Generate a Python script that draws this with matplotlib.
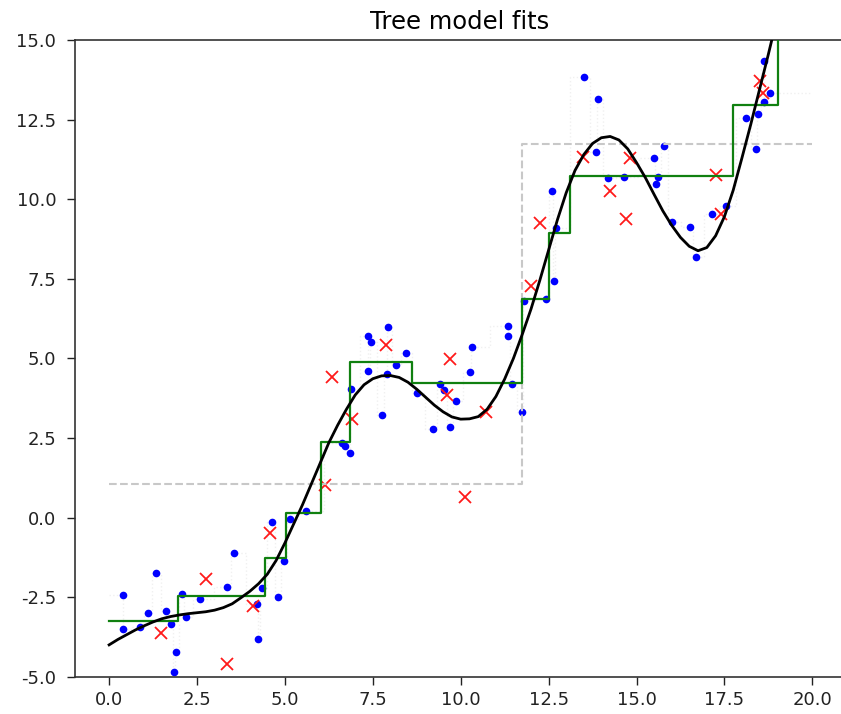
import numpy as np
import matplotlib.pyplot as plt

# training points (blue dots)
x_train = [0.39, 0.39, 0.87, 1.10, 1.32, 1.61, 1.77, 1.89, 1.84, 2.08, 2.20, 2.58,
           3.36, 3.55, 4.22, 4.24, 4.35, 4.62, 4.81, 4.98, 5.14, 5.59, 6.61, 6.70,
           6.84, 6.89, 7.37, 7.46, 7.37, 7.77, 7.89, 7.93, 8.15, 8.44, 8.77, 9.22,
           9.41, 9.52, 9.69, 9.87, 10.26, 10.31, 11.35, 11.35, 11.45, 11.73, 11.80,
           12.42, 12.65, 12.59, 12.71, 13.50, 13.91, 13.84, 14.19, 14.64, 15.50,
           15.79, 15.62, 15.56, 16.02, 16.52, 16.70, 17.15, 17.54, 18.11, 18.46,
           18.39, 18.62, 18.81, 18.62]
y_train = [-2.44, -3.51, -3.43, -3.00, -1.75, -2.93, -3.33, -4.21, -4.84, -2.39, -3.12, -2.56,
           -2.18, -1.12, -2.72, -3.82, -2.20, -0.13, -2.49, -1.38, -0.05, 0.19, 2.34, 2.25,
           2.02, 4.03, 5.71, 5.50, 4.61, 3.22, 4.52, 5.99, 4.80, 5.16, 3.92, 2.79,
           4.20, 4.00, 2.84, 3.67, 4.56, 5.37, 6.01, 5.69, 4.19, 3.30, 6.81,
           6.88, 7.44, 10.26, 9.11, 13.85, 13.16, 11.47, 10.65, 10.71, 11.28,
           11.66, 10.71, 10.47, 9.27, 9.13, 8.19, 9.53, 9.77, 12.54, 12.66,
           11.59, 14.35, 13.35, 13.04]

# test points (red crosses)
x_test = [1.47, 2.75, 3.36, 4.09, 4.57, 6.15, 6.34, 6.90, 7.87, 9.69, 9.62, 10.13,
          10.73, 12.00, 12.25, 13.49, 14.25, 14.70, 14.81, 17.26, 17.40, 18.52, 18.60]
y_test = [-3.63, -1.94, -4.59, -2.77, -0.49, 1.02, 4.42, 3.09, 5.41, 4.98, 3.85, 0.63,
          3.30, 7.26, 9.25, 11.31, 10.26, 9.37, 11.30, 10.77, 9.53, 13.70, 13.35]

# true function (black curve)
x_true = [0.0, 0.25, 0.5, 0.75, 1.0, 1.25, 1.5, 1.75, 2.0, 2.25, 2.5, 2.75, 3.0, 3.25,
          3.5, 3.75, 4.0, 4.25, 4.5, 4.75, 5.0, 5.25, 5.5, 5.75, 6.0, 6.25, 6.5, 6.75,
          7.0, 7.25, 7.5, 7.75, 8.0, 8.25, 8.5, 8.75, 9.0, 9.25, 9.5, 9.75, 10.0, 10.25,
          10.5, 10.75, 11.0, 11.25, 11.5, 11.75, 12.0, 12.25, 12.5, 12.75, 13.0, 13.25,
          13.5, 13.75, 14.0, 14.25, 14.5, 14.75, 15.0, 15.25, 15.5, 15.75, 16.0, 16.25,
          16.5, 16.75, 17.0, 17.25, 17.5, 17.75, 18.0, 18.25, 18.5, 18.75, 19.0]
y_true = [-4.00, -3.83, -3.68, -3.53, -3.40, -3.28, -3.18, -3.11, -3.06, -3.02, -2.99, -2.96,
          -2.91, -2.83, -2.71, -2.52, -2.32, -2.08, -1.78, -1.35, -0.80, -0.20, 0.40, 1.05,
          1.70, 2.35, 2.90, 3.40, 3.85, 4.17, 4.36, 4.45, 4.46, 4.40, 4.25, 4.03, 3.78,
          3.53, 3.32, 3.16, 3.09, 3.10, 3.17, 3.40, 3.80, 4.35, 5.00, 5.75, 6.55, 7.45,
          8.40, 9.35, 10.20, 10.90, 11.40, 11.75, 11.93, 11.97, 11.86, 11.58, 11.15, 10.68,
          10.15, 9.63, 9.18, 8.80, 8.52, 8.38, 8.48, 8.85, 9.45, 10.28, 11.30, 12.35,
          13.45, 14.55, 15.70]

# depth-1 tree (gray dashed)
stump_edges = [0.0, 11.75, 20.0]
stump_vals = [1.05, 11.73]

# deeper tree (green)
tree_edges = [0.0, 1.96, 4.44, 5.04, 6.04, 6.85, 8.62, 11.75, 12.50, 13.10, 17.75, 19.03, 20.0]
tree_vals = [-3.25, -2.47, -1.28, 0.13, 2.36, 4.87, 4.24, 6.86, 8.95, 10.72, 12.97, 16.0]


def step_xy(edges, vals):
    # repeat the last value so step(where='post') draws the final segment
    return edges, list(vals) + [vals[-1]]


fig = plt.figure(figsize=(8.41, 7.14), dpi=100)
ax = fig.add_axes([75 / 841, 37.3 / 714, 770 / 841, 636.7 / 714])

# full-depth tree through the training points, barely visible
order = np.argsort(x_train)
xs = np.array(x_train)[order]
ys = np.array(y_train)[order]
mids = (xs[1:] + xs[:-1]) / 2
full_edges = np.concatenate([[0.0], mids, [20.0]])
ax.step(*step_xy(full_edges, ys), where='post', color='0.94', lw=1, ls=':', zorder=1)

ax.plot(x_train, y_train, 'o', color='#0000ff', ms=5.5, mew=0, zorder=2)
ax.plot(x_test, y_test, 'x', color='#ff1a1a', ms=8, mew=1.3, zorder=2)

ax.step(*step_xy(stump_edges, stump_vals), where='post', color='#c8c8c8', lw=1.5, ls='--', zorder=3)
ax.step(*step_xy(tree_edges, tree_vals), where='post', color='#108010', lw=1.6, zorder=3)
ax.plot(x_true, y_true, color='k', lw=2, zorder=4)

ax.set_xlim(-0.97, 20.93)
ax.set_ylim(-5, 15)
ax.set_xticks([0, 2.5, 5, 7.5, 10, 12.5, 15, 17.5, 20])
ax.set_yticks([-5, -2.5, 0, 2.5, 5, 7.5, 10, 12.5, 15])
ax.xaxis.set_major_formatter(plt.FormatStrFormatter('%.1f'))
ax.yaxis.set_major_formatter(plt.FormatStrFormatter('%.1f'))
ax.tick_params(labelsize=13, length=5.5, width=1, colors='#222222')
ax.tick_params(axis='x', pad=5)
ax.tick_params(axis='y', pad=8)
for sp in ax.spines.values():
    sp.set_linewidth(1.2)
    sp.set_color('#333333')
ax.set_title('Tree model fits', fontsize=17.5, pad=8)

fig.savefig('out.png', dpi=100)
